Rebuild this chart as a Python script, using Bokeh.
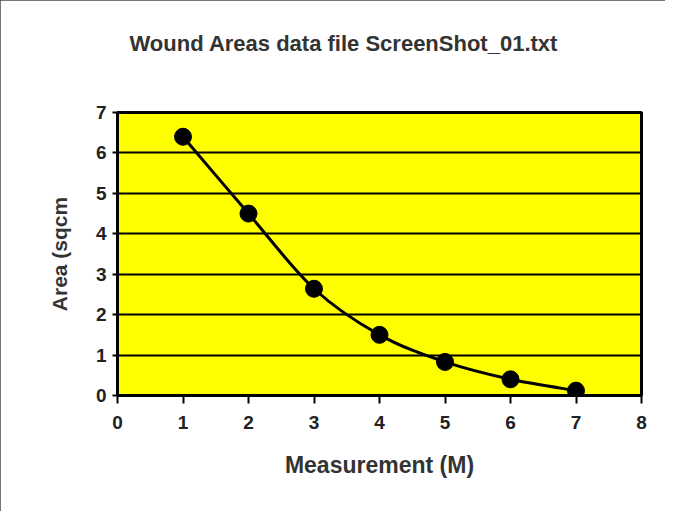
from bokeh.plotting import figure
from bokeh.models import Range1d, FixedTicker, InlineStyleSheet, Title
from bokeh.embed import file_html
from bokeh.resources import INLINE

# data
measurement = [1, 2, 3, 4, 5, 6, 7]
area = [6.4, 4.5, 2.64, 1.5, 0.83, 0.4, 0.12]
x_ticks = [0, 1, 2, 3, 4, 5, 6, 7, 8]
y_ticks = [0, 1, 2, 3, 4, 5, 6, 7]
title_text = "Wound Areas data file  ScreenShot_01.txt"
x_label = "Measurement (M)"
y_label = "Area (sqcm"

FONT = "Liberation Sans"

p = figure(width=665, height=511, output_backend="svg", toolbar_location=None,
           x_range=Range1d(0, 8), y_range=Range1d(0, 7),
           min_border_left=117, min_border_right=24, min_border_top=112, min_border_bottom=116)
p.stylesheets = [InlineStyleSheet(css=":host { outline: 2px solid #4a4a4a; outline-offset: -2px; }")]

# built-in title unused (kept tiny); spacer + real title stacked above the frame
p.title.text = ""
p.title.standoff = 0
p.title.text_font_size = "1px"
spacer = Title(text=" ", text_font_size="1px", standoff=26)
p.add_layout(spacer, "above")
main_title = Title(text=title_text, align="left", offset=12, standoff=56,
                   text_font=FONT, text_font_style="bold", text_font_size="22px",
                   text_color="#333333")
p.add_layout(main_title, "above")

p.background_fill_color = "#FFFF00"
p.border_fill_color = "white"
p.outline_line_color = "black"
p.outline_line_width = 3

p.xgrid.visible = False
p.ygrid.ticker = FixedTicker(ticks=y_ticks)
p.ygrid.grid_line_color = "black"
p.ygrid.grid_line_width = 2

p.xaxis.ticker = FixedTicker(ticks=x_ticks)
p.yaxis.ticker = FixedTicker(ticks=y_ticks)
for ax in (p.xaxis, p.yaxis):
    ax.axis_line_color = "black"
    ax.axis_line_width = 2
    ax.major_tick_line_color = "black"
    ax.major_tick_line_width = 2
    ax.major_tick_in = 0
    ax.minor_tick_line_color = None
    ax.major_label_text_font = FONT
    ax.major_label_text_font_style = "bold"
    ax.major_label_text_font_size = "19px"
    ax.major_label_text_color = "#222222"
    ax.axis_label_text_font = FONT
    ax.axis_label_text_font_style = "bold"
    ax.axis_label_text_color = "#333333"

p.xaxis.axis_label_text_font_size = "23px"
p.yaxis.axis_label_text_font_size = "21px"
p.xaxis.major_tick_out = 8
p.yaxis.major_tick_out = 5
p.xaxis.major_label_standoff = 12
p.yaxis.major_label_standoff = 6
p.xaxis.axis_label = x_label
p.yaxis.axis_label = y_label
p.xaxis.axis_label_standoff = 20
p.yaxis.axis_label_standoff = 22

# Excel-like smoothed line (Catmull-Rom -> cubic Bezier, derived from the data)
n = len(measurement)
x0, y0, x1, y1, cx0, cy0, cx1, cy1 = [], [], [], [], [], [], [], []
for i in range(n - 1):
    im1 = max(i - 1, 0)
    ip2 = min(i + 2, n - 1)
    x0.append(measurement[i]); y0.append(area[i])
    x1.append(measurement[i + 1]); y1.append(area[i + 1])
    cx0.append(measurement[i] + (measurement[i + 1] - measurement[im1]) / 6)
    cy0.append(area[i] + (area[i + 1] - area[im1]) / 6)
    cx1.append(measurement[i + 1] - (measurement[ip2] - measurement[i]) / 6)
    cy1.append(area[i + 1] - (area[ip2] - area[i]) / 6)
p.bezier(x0=x0, y0=y0, x1=x1, y1=y1, cx0=cx0, cy0=cy0, cx1=cx1, cy1=cy1,
         line_color="black", line_width=3)
p.scatter(measurement, area, size=17, marker="circle", fill_color="black", line_color="black")

open("out.html", "w").write(file_html(p, INLINE))
